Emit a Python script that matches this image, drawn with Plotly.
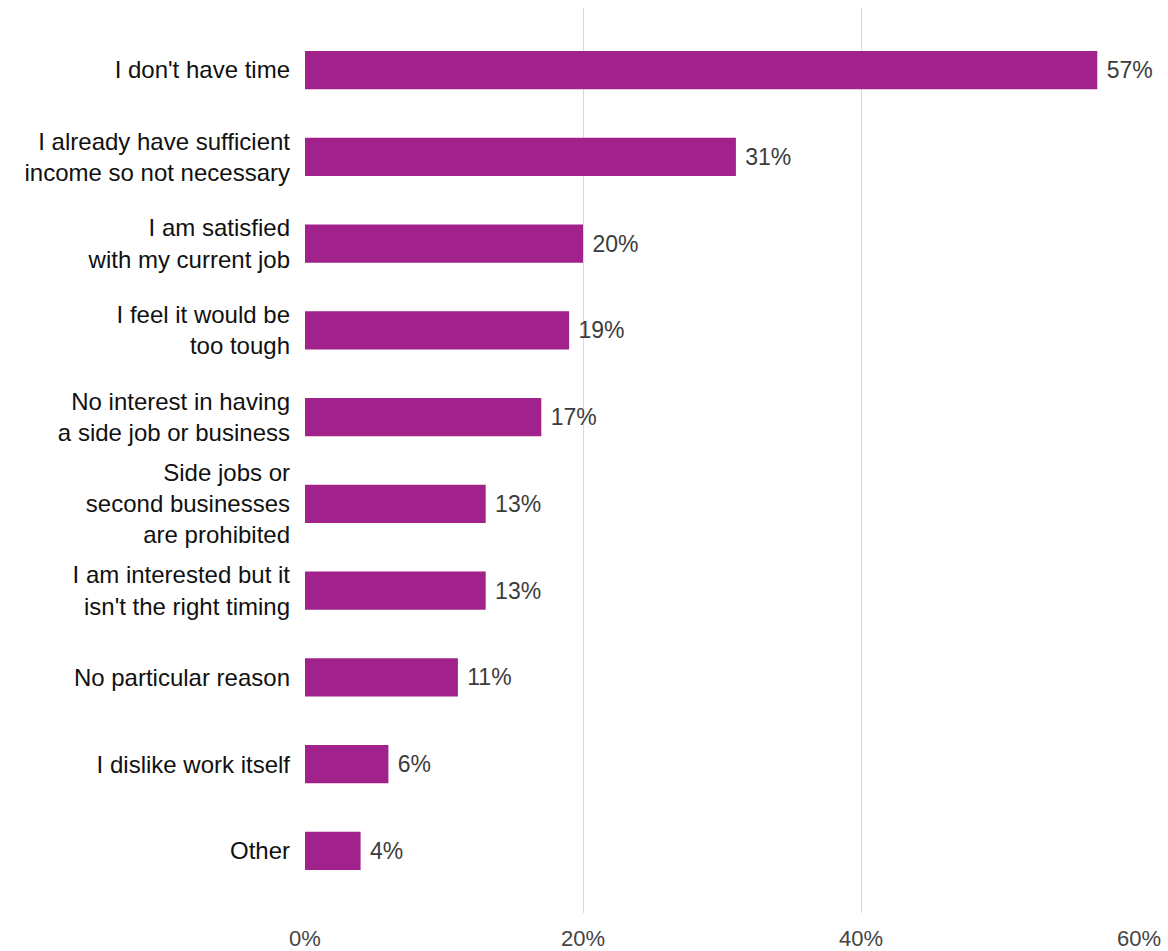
import plotly.graph_objects as go

# Reasons given for not having a side job (share of respondents, %)
reasons = [
    "I don't have time",
    "I already have sufficient<br>income so not necessary",
    "I am satisfied<br>with my current job",
    "I feel it would be<br>too tough",
    "No interest in having<br>a side job or business",
    "Side jobs or<br>second businesses<br>are prohibited",
    "I am interested but it<br>isn't the right timing",
    "No particular reason",
    "I dislike work itself",
    "Other",
]
shares = [57, 31, 20, 19, 17, 13, 13, 11, 6, 4]
x_ticks = [0, 20, 40, 60]
x_tick_labels = ["0%", "20%", "40%", "60%"]

BAR = "#A2228C"
FONT = "Liberation Sans, Arial, sans-serif"

fig = go.Figure(
    go.Bar(
        y=reasons,
        x=shares,
        orientation="h",
        marker=dict(color=BAR, line=dict(width=0)),
        width=0.44,
        # non-breaking space keeps a small gap between bar end and label
        text=[f"\u00a0{v}%" for v in shares],
        textposition="outside",
        textfont=dict(family=FONT, size=23, color="#3c3c3c"),
        cliponaxis=False,
        hoverinfo="skip",
    )
)

n = len(reasons)
pad = 0.215
fig.update_layout(
    width=1168,
    height=951,
    margin=dict(l=305, r=29, t=8, b=38),
    plot_bgcolor="white",
    paper_bgcolor="white",
    showlegend=False,
    font=dict(family=FONT, size=22, color="#111111"),
    xaxis=dict(
        range=[0, 60],
        tickvals=x_ticks,
        ticktext=x_tick_labels,
        showgrid=True,
        gridcolor="#d9d9d9",
        gridwidth=1,
        zeroline=False,
        showline=False,
        ticks="",
        ticklabelstandoff=10,
        automargin=False,
        tickfont=dict(family=FONT, size=22, color="#444444"),
        fixedrange=True,
    ),
    yaxis=dict(
        categoryorder="array",
        categoryarray=reasons,
        autorange=False,
        range=[n - 0.5 + pad, -0.5 - pad],
        showgrid=False,
        zeroline=False,
        showline=False,
        ticks="",
        ticklabelstandoff=14,
        automargin=False,
        tickfont=dict(family=FONT, size=24, color="#111111"),
        fixedrange=True,
    ),
)

fig.write_html("out.html")
